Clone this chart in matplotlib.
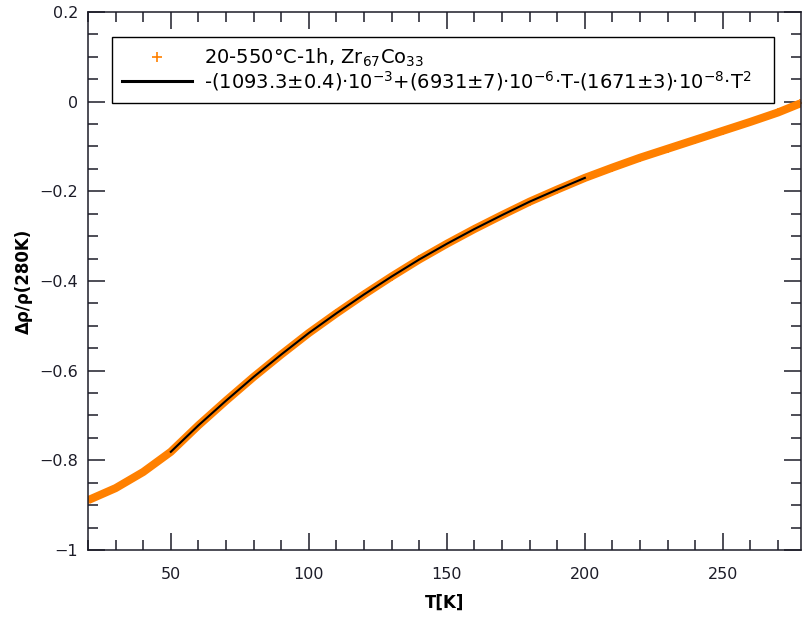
import numpy as np
import matplotlib
matplotlib.use("Agg")
import matplotlib.pyplot as plt
from matplotlib.lines import Line2D
from matplotlib.ticker import MultipleLocator, FuncFormatter

# measured resistivity change vs temperature (normalised at 280 K)
temp = [20, 30, 40, 50, 60, 70, 80, 90, 100, 110, 120, 130, 140, 150,
        160, 170, 180, 190, 200, 210, 220, 230, 240, 250, 260, 270, 278]
drho = [-0.889, -0.862, -0.826, -0.781, -0.722, -0.667, -0.614, -0.564,
        -0.516, -0.472, -0.430, -0.390, -0.352, -0.317, -0.284, -0.253,
        -0.223, -0.196, -0.170, -0.147, -0.125, -0.105, -0.085, -0.065,
        -0.045, -0.024, -0.004]

# quadratic fit curve, 50-200 K
fit_temp = [50, 60, 70, 80, 90, 100, 110, 120, 130, 140, 150, 160, 170,
            180, 190, 200]
fit_drho = [-0.781, -0.722, -0.667, -0.614, -0.564, -0.516, -0.472, -0.430,
            -0.390, -0.352, -0.317, -0.284, -0.253, -0.223, -0.196, -0.170]

data_label = "20-550°C-1h, Zr$_{67}$Co$_{33}$"
fit_label = ("-(1093.3±0.4)·10$^{-3}$+(6931±7)·10$^{-6}$·T"
             "-(1671±3)·10$^{-8}$·T$^{2}$")

orange = "#ff8000"
ink = "#1c1c28"

fig = plt.figure(figsize=(8.02, 6.19), dpi=100)
ax = fig.add_axes([88/802, 69/619, 713/802, 538/619])

ax.plot(temp, drho, color=orange, lw=5.8, solid_capstyle="butt",
        marker="+", ms=6, mew=1.2)
ax.plot(fit_temp, fit_drho, color="black", lw=1.5)

ax.set_xlim(20, 278.3)
ax.set_ylim(-1, 0.2)
ax.xaxis.set_major_locator(MultipleLocator(50))
ax.xaxis.set_minor_locator(MultipleLocator(10))
ax.yaxis.set_major_locator(MultipleLocator(0.2))
ax.yaxis.set_minor_locator(MultipleLocator(0.05))

def fmt(v, pos):
    s = "{:g}".format(round(v, 6))
    if s == "-0":
        s = "0"
    return s.replace("-", "\u2212")

ax.xaxis.set_major_formatter(FuncFormatter(fmt))
ax.yaxis.set_major_formatter(FuncFormatter(fmt))

ax.tick_params(which="both", direction="in", top=True, right=True,
               labelsize=11.5, width=1.1, colors=ink, labelcolor=ink)
ax.tick_params(which="major", length=12)
ax.tick_params(which="minor", length=7)
ax.tick_params(axis="x", which="major", pad=12)
ax.tick_params(axis="y", which="major", pad=7)
for sp in ax.spines.values():
    sp.set_linewidth(1.1)
    sp.set_color(ink)

ax.set_xlabel("T[K]", fontsize=12, fontweight="bold", labelpad=9)
ax.set_ylabel("Δρ/ρ(280K)", fontsize=12, fontweight="bold", labelpad=5)

handles = [Line2D([], [], ls="none", marker="+", color=orange, ms=7, mew=1.2),
           Line2D([], [], color="black", lw=2.2)]
leg = ax.legend(handles, [data_label, fit_label], loc="upper left",
                bbox_to_anchor=(24/713, 1 - 25/538, 662/713, 0),
                mode="expand", fontsize=14,
                fancybox=False, framealpha=1, edgecolor="black",
                borderpad=0.5, labelspacing=0.0, handlelength=3.6,
                handletextpad=0.65, borderaxespad=0)
leg.get_frame().set_linewidth(1.0)

fig.savefig("out.png", dpi=100)
